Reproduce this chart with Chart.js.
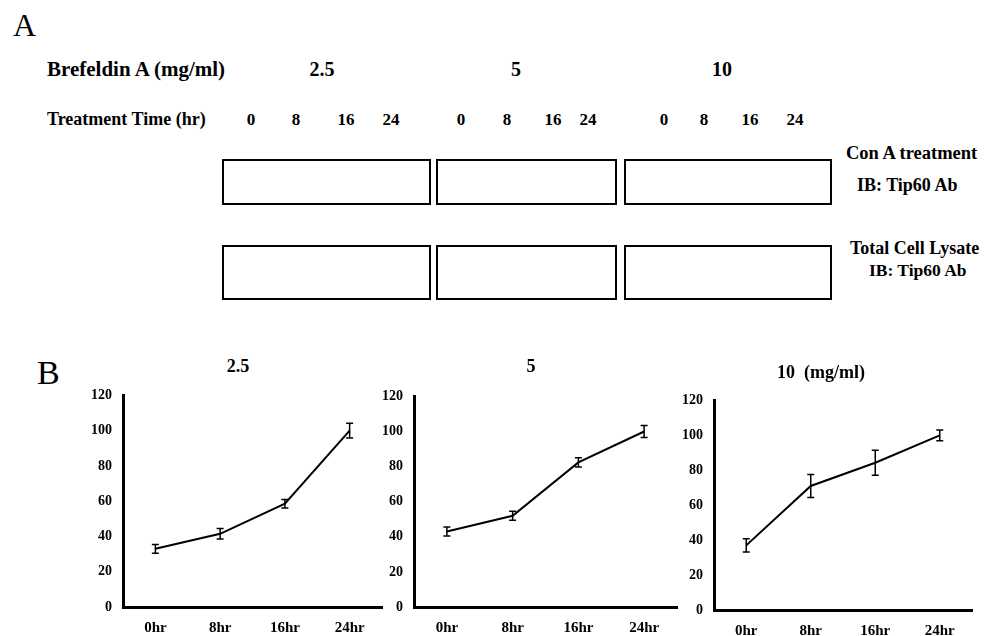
<!DOCTYPE html>
<html>
<head>
<meta charset="utf-8">
<script src="https://cdn.jsdelivr.net/npm/chart.js@4.4.1/dist/chart.umd.min.js"></script>
<style>
  body { margin: 0; background: #fff; }
  #page { position: relative; width: 984px; height: 636px; overflow: hidden; background: #fff;
          font-family: 'Liberation Serif', 'Times New Roman', serif; color: #000; }
  .txt { position: absolute; line-height: 1; white-space: pre;
         font-family: 'Liberation Serif', 'Times New Roman', serif; }
  .box { position: absolute; box-sizing: border-box; border: 2px solid #000; }
  canvas { position: absolute; }
</style>
</head>
<body>
<div id="page">
  <canvas id="c25"></canvas>
  <canvas id="c5"></canvas>
  <canvas id="c10"></canvas>
</div>
<script>
// ---- data ----
const hours = ['0hr', '8hr', '16hr', '24hr'];
const doses = ['2.5', '5', '10'];
const timeLabels = ['0', '8', '16', '24'];

const dose25 = [33, 41.5, 58.6, 100];
const err25 = [2.5, 3.0, 2.4, 4.2];
const dose5 = [43, 52, 82.4, 100];
const err5 = [2.6, 2.6, 2.6, 3.4];
const dose10 = [37, 71, 84.3, 100];
const err10 = [3.8, 6.6, 7.1, 3.1];

const yMin = 0, yMax = 120, yStep = 20;

const FONT = "'Liberation Serif', 'Times New Roman', serif";
const page = document.getElementById('page');

// ---- part A: labels and blank blot boxes ----
function label(text, x, y, size, opt) {
    opt = opt || {};
    const d = document.createElement('div');
    d.className = 'txt';
    d.textContent = text;
    d.style.fontSize = size + 'px';
    d.style.fontWeight = opt.normal ? 'normal' : 'bold';
    d.style.left = x + 'px';
    d.style.top = y + 'px';
    d.style.transform = opt.center ? 'translate(-50%,-50%)' : 'translateY(-50%)';
    page.appendChild(d);
}
function box(x1, y1, x2, y2) {
    const b = document.createElement('div');
    b.className = 'box';
    b.style.left = x1 + 'px';
    b.style.top = y1 + 'px';
    b.style.width = (x2 - x1) + 'px';
    b.style.height = (y2 - y1) + 'px';
    page.appendChild(b);
}

label('A', 13, 25, 32, {normal: true});
label('Brefeldin A (mg/ml)', 47, 69, 21);
label('Treatment Time (hr)', 47, 119, 18);

const doseX = [322, 516, 722];
const timeX = [[251, 296, 346, 391], [461, 507, 553, 588], [664, 704, 750, 795]];
doses.forEach((d, i) => {
    label(d, doseX[i], 69, 20, {center: true});
    timeLabels.forEach((t, j) => label(t, timeX[i][j], 119, 17, {center: true}));
});

const laneX = [[222, 431], [436, 617], [624, 832]];
laneX.forEach(l => {
    box(l[0], 159, l[1], 205);
    box(l[0], 245, l[1], 300);
});

label('Con A treatment', 846, 153, 18.5);
label('IB: Tip60 Ab', 857, 185, 18);
label('Total Cell Lysate', 850, 248, 18);
label('IB: Tip60 Ab', 869, 271, 17.5);

// ---- part B ----
label('B', 37, 373, 34, {normal: true});
label('2.5', 238, 366, 18, {center: true});
label('5', 531, 366, 18, {center: true});
label('10  (mg/ml)', 777, 372, 18);

// error bar plugin
const errorBars = {
    id: 'errorBars',
    afterDatasetsDraw(chart, args, opts) {
        const ctx = chart.ctx;
        const yScale = chart.scales.y;
        const meta = chart.getDatasetMeta(0);
        const vals = chart.data.datasets[0].data;
        ctx.save();
        ctx.strokeStyle = '#000';
        ctx.lineWidth = 1.5;
        meta.data.forEach((pt, i) => {
            const e = opts.errors[i];
            const yTop = yScale.getPixelForValue(vals[i] + e);
            const yBot = yScale.getPixelForValue(vals[i] - e);
            ctx.beginPath();
            ctx.moveTo(pt.x, yTop); ctx.lineTo(pt.x, yBot);
            ctx.moveTo(pt.x - 3.5, yTop); ctx.lineTo(pt.x + 3.5, yTop);
            ctx.moveTo(pt.x - 3.5, yBot); ctx.lineTo(pt.x + 3.5, yBot);
            ctx.stroke();
        });
        ctx.restore();
    }
};

Chart.defaults.font.family = FONT;
Chart.defaults.font.weight = 'bold';
Chart.defaults.color = '#000';

// y tick padding (11) + half label height also pads the top of the chart area
function makeChart(id, values, errors, axisX, endX, top, bottom) {
    const canvas = document.getElementById(id);
    const left = axisX - 48;
    const cTop = top - 19;
    const w = endX + 6 - left;
    const h = 636 - cTop;
    canvas.style.left = left + 'px';
    canvas.style.top = cTop + 'px';
    canvas.width = w;
    canvas.height = h;
    return new Chart(canvas, {
        type: 'line',
        data: {
            labels: hours,
            datasets: [{
                data: values,
                borderColor: '#000',
                borderWidth: 2,
                pointRadius: 0,
                tension: 0,
                fill: false
            }]
        },
        options: {
            responsive: false,
            animation: false,
            layout: { padding: { top: 0, right: 6, left: 0, bottom: 0 } },
            plugins: {
                legend: { display: false },
                tooltip: { enabled: false },
                errorBars: { errors: errors }
            },
            scales: {
                x: {
                    type: 'category',
                    offset: true,
                    grid: { display: false, drawTicks: false },
                    border: { display: true, color: '#000', width: 3 },
                    ticks: { font: { size: 15, weight: 'bold' }, padding: 12, maxRotation: 0 },
                    afterFit(scale) { scale.height = 636 - bottom; }
                },
                y: {
                    min: yMin,
                    max: yMax,
                    grid: { display: false, drawTicks: false },
                    border: { display: true, color: '#000', width: 3 },
                    ticks: { stepSize: yStep, font: { size: 14, weight: 'bold' }, padding: 11 },
                    afterFit(scale) { scale.width = 48; }
                }
            }
        },
        plugins: [errorBars]
    });
}

makeChart('c25', dose25, err25, 123, 382, 395, 607);
makeChart('c5', dose5, err5, 414, 677, 396, 607);
makeChart('c10', dose10, err10, 714, 972, 400, 610);
</script>
</body>
</html>
